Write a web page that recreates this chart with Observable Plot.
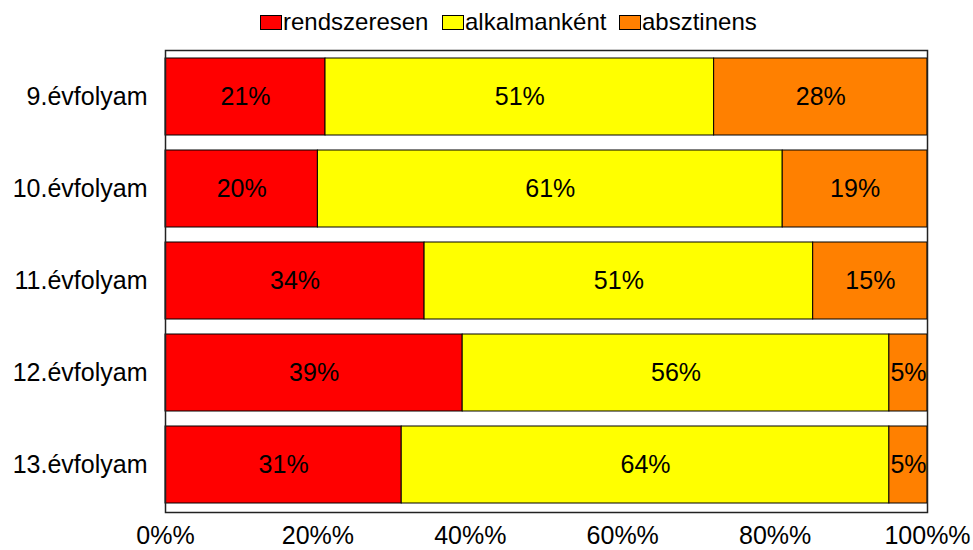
<!DOCTYPE html>
<html>
<head>
<meta charset="utf-8">
<script src="https://cdn.jsdelivr.net/npm/d3@7"></script>
<script src="https://cdn.jsdelivr.net/npm/@observablehq/plot@0.6"></script>
<style>
  body { margin: 0; background: #fff; font-family: "Liberation Sans", Arial, sans-serif; }
  #legend { position: relative; height: 40px; width: 973px; }
  .item { position: absolute; top: 7px; display: flex; align-items: center; font-size: 24px; color: #000; line-height: 30px; }
  .sw { width: 20px; height: 13px; border: 1px solid #000; margin-right: 1px; }
  #chart svg { display: block; }
</style>
</head>
<body>
<div id="legend"></div>
<div id="chart"></div>
<script>
const grades = ["9.évfolyam", "10.évfolyam", "11.évfolyam", "12.évfolyam", "13.évfolyam"];
const categories = ["rendszeresen", "alkalmanként", "absztinens"];
const colors = ["#FF0000", "#FFFF00", "#FF8000"];
const rendszeresen = [21, 20, 34, 39, 31];
const alkalmankent = [51, 61, 51, 56, 64];
const absztinens = [28, 19, 15, 5, 5];
const xTicks = [0, 20, 40, 60, 80, 100];
const innerTicks = [20, 40, 60, 80];

const series = [rendszeresen, alkalmankent, absztinens];
const data = [];
grades.forEach((g, i) => categories.forEach((c, j) => data.push({grade: g, cat: c, value: series[j][i]})));
const tickData = [];
grades.forEach(g => innerTicks.forEach(t => tickData.push({grade: g, x: t})));

// legend
const legendPos = [260, 442, 619];
const legend = document.getElementById("legend");
categories.forEach((c, j) => {
  const it = document.createElement("div");
  it.className = "item";
  it.style.left = legendPos[j] + "px";
  it.innerHTML = `<div class="sw" style="background:${colors[j]}"></div><span>${c}</span>`;
  legend.appendChild(it);
});

const chart = Plot.plot({
  width: 973,
  height: 510,
  marginTop: 10,
  marginBottom: 38,
  marginLeft: 165,
  marginRight: 46,
  style: {fontFamily: "'Liberation Sans', Arial, sans-serif", fontSize: "25px", color: "#000", background: "#fff"},
  x: {domain: [0, 100], ticks: xTicks, tickFormat: d => d + "%%", tickSize: 0, tickPadding: 14, label: null},
  y: {domain: grades, paddingInner: 0.163, paddingOuter: 0.087, tickSize: 0, tickPadding: 18, label: null},
  color: {domain: categories, range: colors},
  marks: [
    Plot.ruleX(tickData, {x: "x", y: "grade", stroke: "#444", strokeWidth: 1, insetTop: 77, insetBottom: -7}),
    Plot.barX(data, Plot.stackX({x: "value", y: "grade", z: "cat", fill: "cat", stroke: "#000", strokeWidth: 1})),
    Plot.text(data, Plot.stackX({x: "value", y: "grade", z: "cat", text: d => d.value + "%", fill: "#000", fontSize: 25})),
    Plot.frame({stroke: "#222", strokeWidth: 1.5})
  ]
});
document.getElementById("chart").appendChild(chart);
</script>
</body>
</html>
